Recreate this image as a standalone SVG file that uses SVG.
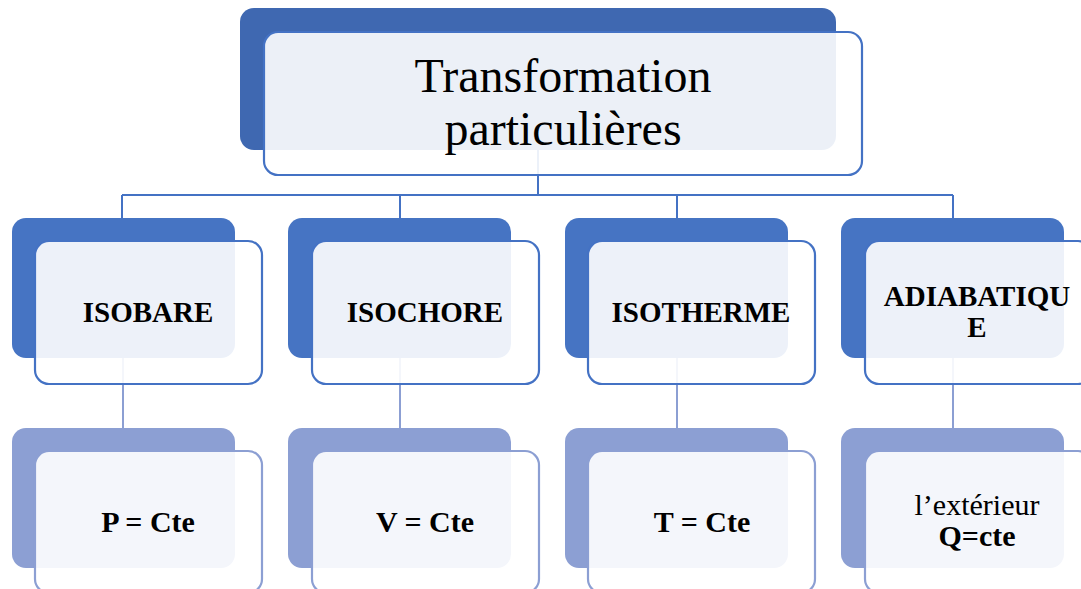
<svg xmlns="http://www.w3.org/2000/svg" width="1081" height="589" viewBox="0 0 1081 589">
<style>
.bg1{fill:#3F68B1}
.bg2{fill:#4674C3}
.bg3{fill:#8C9FD3}
.fr{fill:#FFFFFF;fill-opacity:0.9;stroke-width:2.2}
.fr1{stroke:#4472C4}
.fr3{stroke:#8C9FD3}
.c1{stroke:#4472C4;stroke-width:2;fill:none}
.c3{stroke:#8C9FD3;stroke-width:2;fill:none}
.t{font-family:"Liberation Serif","Times New Roman",serif;fill:#000;text-anchor:middle}
.b{font-weight:bold}
</style>
<rect width="1081" height="589" fill="#FFFFFF"/>
<g id="connectors">
<path class="c1" d="M538,150 V195 M122,195 H953 M122,195 V218 M400,195 V218 M677,195 V218 M953,195 V218"/>
<path class="c3" d="M123,358 V428 M400,358 V428 M677,358 V428 M953,358 V428"/>
</g>
<g id="root">
<rect class="bg1" x="240" y="8" width="596" height="142" rx="14"/>
<rect class="fr fr1" x="264" y="32" width="598" height="143" rx="14"/>
<text class="t" x="563" y="92" font-size="48">Transformation</text>
<text class="t" x="563" y="145" font-size="48">particulières</text>
</g>
<g id="isobare">
<rect class="bg2" x="12" y="218" width="223" height="140" rx="14"/>
<rect class="fr fr1" x="35" y="241" width="227" height="143" rx="14"/>
<text class="t b" x="148" y="322" font-size="29">ISOBARE</text>
</g>
<g id="isochore">
<rect class="bg2" x="288" y="218" width="223" height="140" rx="14"/>
<rect class="fr fr1" x="312" y="241" width="227" height="143" rx="14"/>
<text class="t b" x="425" y="322" font-size="29">ISOCHORE</text>
</g>
<g id="isotherme">
<rect class="bg2" x="565" y="218" width="223" height="140" rx="14"/>
<rect class="fr fr1" x="588" y="241" width="227" height="143" rx="14"/>
<text class="t b" x="701" y="322" font-size="29">ISOTHERME</text>
</g>
<g id="adiabatique">
<rect class="bg2" x="841" y="218" width="223" height="140" rx="14"/>
<rect class="fr fr1" x="865" y="241" width="227" height="143" rx="14"/>
<text class="t b" x="977" y="306" font-size="29">ADIABATIQU</text>
<text class="t b" x="977" y="337" font-size="29">E</text>
</g>
<g id="p-cte">
<rect class="bg3" x="12" y="428" width="223" height="140" rx="14"/>
<rect class="fr fr3" x="35" y="451" width="227" height="142" rx="14"/>
<text class="t b" x="148" y="532" font-size="30">P = Cte</text>
</g>
<g id="v-cte">
<rect class="bg3" x="288" y="428" width="223" height="140" rx="14"/>
<rect class="fr fr3" x="312" y="451" width="227" height="142" rx="14"/>
<text class="t b" x="425" y="532" font-size="30">V = Cte</text>
</g>
<g id="t-cte">
<rect class="bg3" x="565" y="428" width="223" height="140" rx="14"/>
<rect class="fr fr3" x="588" y="451" width="227" height="142" rx="14"/>
<text class="t b" x="702" y="532" font-size="30">T = Cte</text>
</g>
<g id="q-cte">
<rect class="bg3" x="841" y="428" width="223" height="140" rx="14"/>
<rect class="fr fr3" x="865" y="451" width="227" height="142" rx="14"/>
<text class="t" x="977" y="515" font-size="30">l’extérieur</text>
<text class="t b" x="977" y="546" font-size="30">Q=cte</text>
</g>
</svg>
